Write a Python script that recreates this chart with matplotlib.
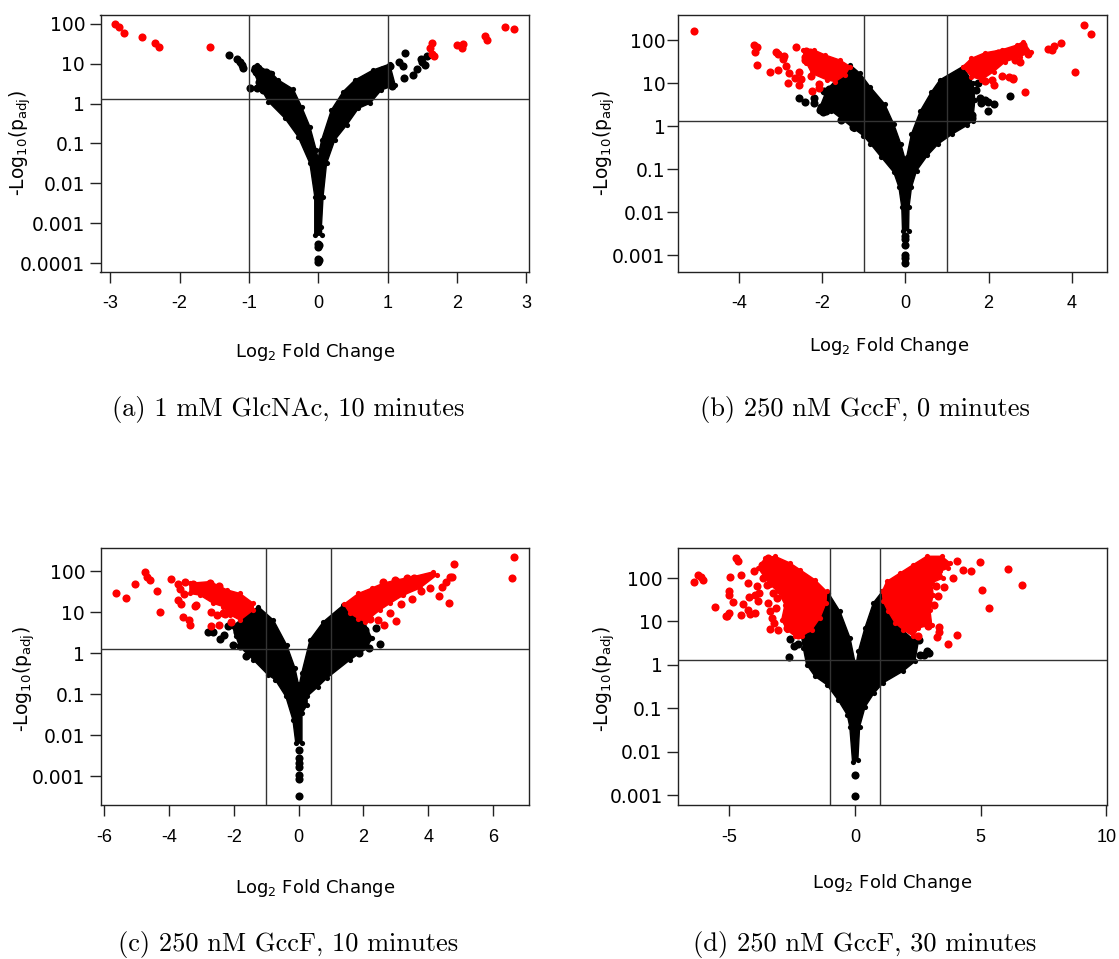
import numpy as np
import matplotlib
matplotlib.use("Agg")
import matplotlib.pyplot as plt

W, H = 1119, 959

# every pair is (log2 fold change, log10 of the -log10(padj) axis value)
# the solid black/red masses are too dense to read single points, so their outlines
# were read instead and get filled; the separate dots are drawn one by one

# panel a
a_black_mass = [(-.89,.97),(-.67,.76),(-.575,.59),(-.36,.36),(-.24,-.08),(-.12,-.58),(-.03,-1.16),(0,-1.4),
                (.02,-1.16),(.05,-.91),(.19,-.16),(.36,.30),(.53,.59),(.79,.84),(1.03,.99),
                (1.11,.465),(.91,.34),(.75,.01),(.58,-.12),(.41,-.54),(.24,-.91),(.12,-1.5),(.07,-2.33),
                (.046,-3.09),(.05,-3.3),(-.05,-3.3),(-.05,-2.33),(-.12,-1.5),(-.29,-.83),(-.48,-.37),
                (-.72,.05),(-.84,.42),(-.94,.84)]
a_black = [(-1.29,1.21),(-1.17,1.125),(-1.13,1.05),(-1.10,.97),(-1.08,.9),(-.985,.385),(-.91,.9),(-.87,.88),
           (-.9,.8),(-.845,.74),(-.855,.55),(-.89,.39),(-.80,.33),(-.75,.78),(-.69,.73),
           (1.04,.93),(1.17,1.04),(1.25,1.27),(1.22,.94),(1.23,.65),(1.37,.71),(1.43,.87),(1.48,1.11),
           (1.5,1.04),(1.54,.97),(1.57,1.2),(1.06,.43),(1.0,.58),(.92,.83),(.97,.8),
           (0,-3.51),(0,-3.60),(0,-3.89),(0,-3.97),(.005,-3.55),(.005,-3.93)]
a_red = [(-2.93,1.99),(-2.87,1.91),(-2.80,1.78),(-2.54,1.67),(-2.35,1.53),(-2.30,1.42),(-1.56,1.43),
         (1.61,1.40),(1.64,1.53),(1.645,1.24),(1.675,1.2),(2.0,1.48),(2.09,1.5),(2.07,1.4),
         (2.40,1.69),(2.44,1.6),(2.69,1.93),(2.82,1.87)]
a_red_mass = []

# panel b
b_black_mass = [(-1.33,1.43),(-1.09,1.23),(-.85,.92),(-.50,.52),(-.28,.05),(-.11,-.41),(-.01,-.76),
                (.03,-.72),(.146,-.18),(.36,.36),(.62,.79),(.83,1.08),(1.38,1.39),
                (1.63,1.0),(1.67,.61),(1.62,.13),(1.48,.02),(1.13,-.18),(.79,-.41),(.53,-.68),(.27,-1.03),
                (.146,-1.42),(.086,-1.89),(.077,-2.43),(-.069,-2.43),(-.086,-1.89),(-.155,-1.42),(-.28,-1.07),
                (-.58,-.72),(-.84,-.41),(-1.01,-.22),(-1.23,-.06),(-1.53,.17),(-1.79,.365),(-2.05,.46),(-1.89,.85)]
b_black = [(-2.56,.66),(-2.41,.57),(-2.21,.65),(-2.21,.55),(-2.05,.38),(-1.97,.34),(-1.91,.365),(-2.02,.46),
           (-1.83,.64),(-1.72,.44),(-1.55,.15),(-1.25,-.01),(-1.96,.815),(-1.83,.87),(-1.61,.83),
           (2.52,.70),(2.14,.51),(1.99,.355),(1.91,.61),(1.83,.55),(1.75,1.0),(1.71,.84),(1.80,.66),(1.61,.19),
           (1.61,.26),(1.56,.52),(1.99,.56),
           (0,-2.55),(0,-2.62),(0,-2.76),(0,-2.99),(0,-3.07),(0,-3.18)]
b_red = [(-5.09,2.21),(-3.64,1.90),(-3.56,1.85),(-3.61,1.72),(-3.56,1.42),(-3.26,1.26),(-3.11,1.74),(-3.06,1.68),
         (-3.06,1.31),(-2.92,1.64),(-2.94,1.56),(-2.86,1.40),(-2.79,1.25),(-2.66,1.12),(-2.83,1.0),(-2.63,1.85),
         (-2.57,1.26),(-2.52,1.10),(-2.55,.96),(-2.25,.81),(-2.08,.98),(-2.07,.88),(-2.42,1.62),(-2.38,1.76),
         (-2.30,1.74),(-2.42,1.55),(-2.26,1.18),
         (4.29,2.36),(4.47,2.15),(4.07,1.27),(3.75,1.93),(3.57,1.86),(3.44,1.81),(3.52,1.78),(2.88,.80),(2.76,1.49),
         (2.59,1.10),(2.50,1.155),(2.32,1.17),(2.08,1.08),(2.12,.96),(2.83,1.90),(2.68,1.82),(2.95,1.68),(2.64,1.55),
         (2.38,1.72),(2.23,1.70),(1.61,1.51),(1.91,1.06),(2.60,1.12)]
b_red_mass = [[(-2.46,1.78),(-2.21,1.78),(-1.93,1.66),(-1.57,1.54),(-1.33,1.39),(-1.45,1.19),(-1.69,1.04),
               (-1.89,1.08),(-2.25,1.23),(-2.38,1.47)],
              [(1.38,1.39),(1.59,1.58),(1.91,1.71),(2.32,1.78),(2.68,1.89),(2.84,1.97),(3.01,1.74),(2.76,1.62),
               (2.40,1.50),(2.12,1.27),(1.83,1.08),(1.59,1.155)]]

# panel c
c_black_mass = [(-1.25,1.14),(-.78,.81),(-.37,.20),(-.12,-.35),(-.01,-.75),
                (.02,-.77),(.09,-.49),(.35,.33),(.76,.77),(1.38,1.18),
                (2.0,.81),(2.25,.37),(2.1,.12),(1.58,-.16),(.86,-.61),(.60,-.81),(.26,-1.05),(.26,-1.26),
                (.10,-1.46),(.10,-2.19),(-.09,-2.19),(-.18,-1.62),(-.40,-1.05),(-.73,-.64),(-.94,-.53),
                (-1.40,-.16),(-1.83,.17),(-1.94,.42),(-2.05,.66)]
c_black = [(-2.79,.51),(-2.66,.53),(-2.43,.35),(-2.31,.44),(-2.04,.20),(-1.63,-.07),(-2.19,.67),(-1.92,.53),(-1.81,.19),
           (2.52,.24),(2.17,.13),(2.39,.61),(2.15,.37),(2.05,.57),(1.87,.015),
           (.01,-2.36),(.01,-2.56),(.01,-2.68),(.01,-2.78),(.01,-2.97),(.01,-3.06),(.01,-3.47)]
c_red = [(-5.63,1.48),(-5.33,1.34),(-5.04,1.70),(-4.75,1.99),(-4.67,1.87),(-4.60,1.78),(-4.39,1.51),(-4.28,1.01),
         (-3.93,1.82),(-3.74,1.68),(-3.51,1.74),(-3.65,1.56),(-3.54,1.44),(-3.74,1.31),(-3.62,1.20),(-3.57,.89),
         (-3.40,.82),(-3.37,.69),(-3.20,1.15),(-3.17,1.18),(-3.26,1.68),(-3.13,1.64),(-2.75,1.72),(-2.47,1.64),
         (-2.72,1.02),(-2.71,.66),(-2.45,.68),(-2.53,.94),(-2.33,.98),(-2.27,.95),(-2.10,.77),
         (6.64,2.34),(6.58,1.84),(4.80,2.19),(4.72,1.86),(4.67,1.87),(4.54,1.75),(4.41,1.63),(4.05,1.59),(4.32,1.41),
         (4.64,1.22),(3.49,1.33),(3.16,1.20),(2.99,.78),(2.63,.69),(2.46,.81),(2.20,.83),(2.82,.99),(3.19,1.48),
         (3.79,1.52),(3.57,1.83),(3.35,1.83),(2.97,1.80),(2.60,1.74)]
c_red_mass = [[(-3.36,1.71),(-2.74,1.75),(-2.22,1.55),(-1.81,1.46),(-1.40,1.22),(-1.40,1.06),(-1.81,.81),(-2.12,.94),
               (-2.33,1.14),(-2.64,1.22),(-3.05,1.42),(-3.36,1.46)],
              [(1.40,1.20),(1.84,1.46),(2.25,1.59),(2.61,1.71),(3.02,1.79),(3.54,1.87),(4.16,1.99),(4.26,1.91),
               (3.74,1.59),(3.23,1.42),(2.82,1.22),(2.51,1.06),(2.05,.77),(1.84,.85),(1.58,.98)]]

# panel d
d_black_mass = [(-1.06,1.655),(-.60,1.23),(-.20,.62),(0,.05),(-.01,-.04),(.04,0),(.13,.31),(.39,.85),(.73,1.43),
                (1.08,1.69),(1.79,.85),(2.25,.62),(2.53,.58),(2.38,.08),(1.89,-.15),(1.12,-.41),(.75,-.65),(.40,-.96),
                (.18,-1.42),(.11,-2.19),(-.10,-2.23),(-.21,-1.42),(-.31,-1.15),(-.67,-.81),(-1.13,-.45),(-1.6,-.26),
                (-1.93,.01),(-2.06,.39),(-2.13,.66)]
d_black = [(-2.59,.60),(-2.42,.43),(-2.26,.48),(-2.63,.18),(2.54,.58),(2.58,.24),(2.74,.24),(2.87,.31),(2.93,.27),
           (0,-2.54),(0,-3.01)]
d_red = [(-6.42,1.90),(-6.25,2.08),(-6.14,2.02),(-6.07,1.96),(-5.58,1.33),(-5.14,1.13),(-5.11,1.13),(-5.0,1.20),
         (-5.01,1.71),(-5.01,1.62),(-4.98,2.02),(-4.87,1.45),(-4.75,2.46),(-4.65,2.40),(-4.55,2.06),(-4.55,1.16),
         (-4.48,1.40),(-4.28,1.89),(-4.25,1.27),(-4.21,1.56),(-4.18,1.18),(-4.01,2.17),(-3.98,1.20),(-3.98,1.62),
         (-3.92,1.82),(-3.85,1.48),(-3.81,1.66),(-3.72,2.31),(-3.65,2.0),(-3.52,1.85),(-3.45,2.46),(-3.45,1.42),
         (-3.39,1.23),(-3.39,.83),(-3.32,1.08),(-3.28,1.66),(-3.23,.97),(-3.15,1.31),(-3.12,1.54),(-3.06,.81),
         (-2.72,.85),(-2.26,.70),(-1.86,.85),
         (6.65,1.85),(6.10,2.21),(4.97,2.37),(5.05,1.73),(5.32,1.30),(4.61,2.15),(4.07,2.38),(4.31,2.18),(3.91,2.0),
         (3.55,1.79),(3.31,1.58),(3.21,1.81),(3.15,1.39),(3.34,.87),(3.34,.76),(3.27,.64),(4.07,.69),(3.68,.48),
         (2.92,.89),(2.52,.67)]
d_red_mass = [[(-3.59,2.46),(-3.19,2.50),(-2.59,2.345),(-2.19,2.19),(-1.60,1.96),(-1.13,1.69),(-1.16,1.425),(-1.40,1.08),
               (-1.73,.81),(-2.13,.66),(-2.39,.66),(-2.72,.81),(-2.92,1.04),(-2.79,1.39),(-3.07,1.69),(-3.39,1.85),(-3.86,2.23)],
              [(1.08,1.69),(1.26,1.92),(1.79,2.115),(2.32,2.31),(2.85,2.50),(3.45,2.50),(3.78,2.345),(3.71,2.23),
               (3.38,2.15),(3.51,2.0),(3.05,1.89),(3.11,1.62),(2.98,1.27),(3.05,.93),(2.52,.85),(2.32,.66),(1.92,.81),
               (1.59,.97),(1.32,1.23),(1.12,1.46)]]

a_xticks = [-3, -2, -1, 0, 1, 2, 3]
b_xticks = [-4, -2, 0, 2, 4]
c_xticks = [-6, -4, -2, 0, 2, 4, 6]
d_xticks = [-5, 0, 5, 10]
a_yticks = [100, 10, 1, 0.1, 0.01, 0.001, 0.0001]
b_yticks = [100, 10, 1, 0.1, 0.01, 0.001]
a_ylabels = ['100', '10', '1', '0.1', '0.01', '0.001', '0.0001']
b_ylabels = ['100', '10', '1', '0.1', '0.01', '0.001']
captions = ['(a) 1 mM GlcNAc, 10 minutes', '(b) 250 nM GccF, 0 minutes',
            '(c) 250 nM GccF, 10 minutes', '(d) 250 nM GccF, 30 minutes']
padj_cut = 1.3


def pair_arrays(pairs):
    x, y = np.array(pairs, dtype=float).T
    return x, 10.0 ** y


def panel(box, xlim, ylog, xticks, yticks, ylabels, black_mass, black, red, red_mass, caption, cap_xy, xl_xy, yl_xy, ypad):
    left, right, top, bottom = box
    ax = fig.add_axes([left / W, 1 - bottom / H, (right - left) / W, (bottom - top) / H])
    ax.set_yscale('log')
    ax.set_xlim(*xlim)
    ax.set_ylim(10.0 ** ylog[0], 10.0 ** ylog[1])

    x, y = pair_arrays(black_mass)
    ax.fill(x, y, color='black', lw=1, joinstyle='round', zorder=2)
    ax.scatter(x, y, s=14, c='black', lw=0, zorder=2)
    x, y = pair_arrays(black)
    ax.scatter(x, y, s=34, c='black', lw=0, zorder=3)
    for m in red_mass:
        x, y = pair_arrays(m)
        ax.fill(x, y, color='#fe0000', lw=1, joinstyle='round', zorder=4)
        ax.scatter(x, y, s=14, c='#fe0000', lw=0, zorder=4)
    x, y = pair_arrays(red)
    ax.scatter(x, y, s=34, c='#fe0000', lw=0, zorder=5)

    # cut offs
    ax.axvline(-1, color='#333333', lw=1.0, zorder=6)
    ax.axvline(1, color='#333333', lw=1.0, zorder=6)
    ax.axhline(padj_cut, color='#333333', lw=1.0, zorder=6)

    ax.set_xticks(xticks)
    ax.set_xticklabels([str(t) for t in xticks], family='Liberation Sans', fontsize=13)
    ax.set_yticks(yticks)
    ax.set_yticklabels(ylabels, family='DejaVu Sans', fontsize=13.5)
    ax.minorticks_off()
    ax.tick_params(axis='x', length=8, width=1, pad=9, color='#222222')
    ax.tick_params(axis='y', length=8, width=1, pad=ypad, color='#222222')
    for s in ax.spines.values():
        s.set_linewidth(1.0)
        s.set_color('#222222')

    fig.text(xl_xy[0] / W, 1 - xl_xy[1] / H, r'Log$_{2}$ Fold Change', ha='center', va='center', fontsize=13)
    fig.text(yl_xy[0] / W, 1 - yl_xy[1] / H, r'-Log$_{10}$(p$_{\mathrm{adj}}$)', rotation=90,
             ha='center', va='center', fontsize=13.5)
    fig.text(cap_xy[0] / W, 1 - cap_xy[1] / H, caption, ha='center', va='center', family='cmr10', fontsize=19)


fig = plt.figure(figsize=(W / 100, H / 100), dpi=100)

panel((100.5, 529, 15, 271.5), (-3.14, 3.04), (-4.21, 2.22), a_xticks, a_yticks, a_ylabels,
      a_black_mass, a_black, a_red, a_red_mass, captions[0], (288, 410), (315, 352), (20, 143), 3)
panel((678, 1107, 15, 271.5), (-5.47, 4.85), (-3.38, 2.59), b_xticks, b_yticks, b_ylabels,
      b_black_mass, b_black, b_red, b_red_mass, captions[1], (865, 410), (889, 346), (604, 143), 1)
panel((100.5, 529, 548, 805), (-6.12, 7.11), (-3.70, 2.57), c_xticks, b_yticks, b_ylabels,
      c_black_mass, c_black, c_red, c_red_mass, captions[2], (288, 945), (315, 888), (24, 679), 3)
panel((678, 1107, 548, 805), (-7.05, 10.03), (-3.22, 2.69), d_xticks, b_yticks, b_ylabels,
      d_black_mass, d_black, d_red, d_red_mass, captions[3], (865, 945), (892, 883), (604, 679), 3)

fig.savefig('out.png', dpi=100)
